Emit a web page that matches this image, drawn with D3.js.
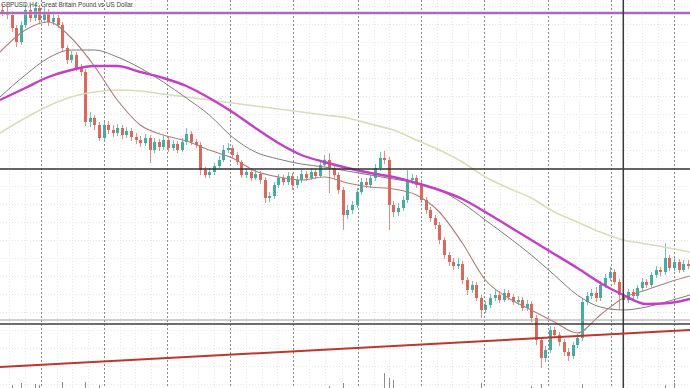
<!DOCTYPE html>
<html>
<head>
<meta charset="utf-8">
<script src="https://cdn.jsdelivr.net/npm/d3@7"></script>
<style>
  body { margin: 0; background: #fff; }
  svg { display: block; }
</style>
</head>
<body>
<div id="chart"></div>
<script>
// GBPUSD H4 candles (open of each bar = previous close)
const firstOpen = 1.3380;
const closes = [
  1.3376,1.3370,1.3344,1.3316,1.3350,1.3380,1.3364,1.3384,1.3360,1.3376,
  1.3356,1.3364,1.3350,1.3304,1.3280,1.3290,1.3264,1.3256,1.3156,1.3164,
  1.3150,1.3124,1.3150,1.3140,1.3134,1.3144,1.3130,1.3138,1.3126,1.3120,
  1.3114,1.3124,1.3100,1.3116,1.3106,1.3120,1.3104,1.3112,1.3100,1.3116,
  1.3132,1.3116,1.3110,1.3060,1.3050,1.3056,1.3068,1.3080,1.3100,1.3104,
  1.3090,1.3076,1.3050,1.3056,1.3044,1.3052,1.3040,1.3004,1.3008,1.3030,
  1.3044,1.3036,1.3048,1.3030,1.3040,1.3052,1.3044,1.3056,1.3048,1.3070,
  1.3080,1.3064,1.3050,1.3020,1.2970,1.2980,1.2990,1.3016,1.3036,1.3030,
  1.3044,1.3064,1.3084,1.3080,1.2990,1.2976,1.2984,1.3000,1.3040,1.3044,
  1.3030,1.3000,1.2980,1.2964,1.2950,1.2920,1.2890,1.2876,1.2868,1.2872,
  1.2840,1.2820,1.2830,1.2804,1.2780,1.2790,1.2804,1.2810,1.2800,1.2814,
  1.2806,1.2796,1.2800,1.2784,1.2792,1.2764,1.2720,1.2684,1.2700,1.2740,
  1.2730,1.2716,1.2696,1.2688,1.2710,1.2724,1.2796,1.2808,1.2814,1.2804,
  1.2830,1.2844,1.2856,1.2836,1.2810,1.2800,1.2816,1.2808,1.2824,1.2836,
  1.2830,1.2850,1.2860,1.2856,1.2884,1.2864,1.2876,1.2860,1.2872,1.2868
];
const highs = [
  1.3392,1.3386,1.3378,1.3350,1.3358,1.3392,1.3390,1.3394,1.3390,1.3386,
  1.3382,1.3372,1.3370,1.3356,1.3310,1.3298,1.3296,1.3272,1.3262,1.3176,
  1.3170,1.3156,1.3160,1.3158,1.3150,1.3152,1.3150,1.3146,1.3144,1.3134,
  1.3128,1.3132,1.3130,1.3124,1.3122,1.3128,1.3126,1.3120,1.3118,1.3124,
  1.3144,1.3138,1.3122,1.3116,1.3066,1.3064,1.3074,1.3088,1.3110,1.3114,
  1.3110,1.3096,1.3080,1.3064,1.3062,1.3060,1.3058,1.3046,1.3016,1.3036,
  1.3052,1.3050,1.3056,1.3054,1.3048,1.3060,1.3058,1.3064,1.3062,1.3076,
  1.3090,1.3094,1.3070,1.3056,1.3026,1.2990,1.2998,1.3024,1.3044,1.3044,
  1.3050,1.3072,1.3096,1.3098,1.3086,1.2998,1.2994,1.3008,1.3060,1.3052,
  1.3050,1.3036,1.3006,1.2986,1.2970,1.2956,1.2926,1.2896,1.2884,1.2884,
  1.2878,1.2846,1.2838,1.2836,1.2810,1.2798,1.2812,1.2822,1.2818,1.2822,
  1.2820,1.2812,1.2808,1.2806,1.2800,1.2798,1.2770,1.2726,1.2708,1.2748,
  1.2746,1.2736,1.2722,1.2704,1.2716,1.2732,1.2804,1.2816,1.2822,1.2826,
  1.2838,1.2852,1.2866,1.2862,1.2842,1.2816,1.2822,1.2822,1.2830,1.2844,
  1.2842,1.2856,1.2868,1.2866,1.2914,1.2890,1.2884,1.2882,1.2880,1.2880
];
const lows = [
  1.3368,1.3362,1.3336,1.3306,1.3310,1.3344,1.3356,1.3358,1.3352,1.3354,
  1.3348,1.3350,1.3344,1.3296,1.3272,1.3274,1.3258,1.3248,1.3148,1.3146,
  1.3140,1.3118,1.3118,1.3132,1.3126,1.3128,1.3122,1.3124,1.3118,1.3112,
  1.3106,1.3108,1.3074,1.3094,1.3098,1.3100,1.3096,1.3098,1.3094,1.3096,
  1.3110,1.3110,1.3104,1.3050,1.3044,1.3044,1.3050,1.3062,1.3076,1.3094,
  1.3084,1.3070,1.3044,1.3044,1.3038,1.3040,1.3032,1.2994,1.2996,1.3002,
  1.3024,1.3030,1.3030,1.3020,1.3024,1.3034,1.3038,1.3040,1.3042,1.3044,
  1.3066,1.3014,1.3040,1.3012,1.2940,1.2962,1.2972,1.2984,1.3010,1.3024,
  1.3024,1.3038,1.3058,1.3072,1.2940,1.2966,1.2968,1.2978,1.2994,1.3032,
  1.3024,1.2994,1.2972,1.2956,1.2942,1.2912,1.2882,1.2868,1.2860,1.2862,
  1.2832,1.2810,1.2814,1.2798,1.2764,1.2774,1.2784,1.2798,1.2794,1.2796,
  1.2800,1.2790,1.2790,1.2778,1.2778,1.2756,1.2710,1.2664,1.2676,1.2694,
  1.2724,1.2708,1.2688,1.2678,1.2682,1.2704,1.2718,1.2790,1.2802,1.2796,
  1.2798,1.2824,1.2838,1.2830,1.2780,1.2794,1.2794,1.2800,1.2802,1.2818,
  1.2824,1.2826,1.2844,1.2848,1.2850,1.2858,1.2858,1.2854,1.2856,1.2862
];
const volumes = [
  14000,16000,20250,17500,21750,15000,16500,21000,20250,14500,
  13000,15500,16000,22500,17000,12000,15000,16500,22500,17000,
  15500,20250,16000,13000,12500,11000,12000,14000,10500,12000,
  13500,11500,16000,12500,11000,12000,10000,11500,13000,12000,
  15000,13000,11000,17500,14000,12000,11500,13000,14500,12000,
  11000,12500,15000,11000,10500,12000,13000,17000,14000,13000,
  12000,10500,11000,12500,11000,10000,12000,11500,13000,15000,
  16000,19500,15500,17000,21750,16000,14000,15000,13500,12000,
  13000,15500,17500,29250,25500,24000,16500,15000,17000,13000,
  12500,15000,14000,13500,14500,16500,17000,15000,13000,12000,
  16000,17500,14000,16000,21750,15000,13000,12500,12000,13500,
  12000,13000,12000,14000,13000,19500,17500,21000,16000,17000,
  14000,13500,15000,16000,14500,15500,21000,15000,13000,12500,
  14000,15000,14500,13000,16500,19500,14000,12000,13000,14000,
  12500,14500,15000,14000,20250,17000,21750,14500,13000,12000
];

const maIdx = [-0.5,5,10,15,20,25,30,35,40,45,50,55,60,65,70,75,80,85,90,95,100,105,110,115,120,125,130,135,140,145,149.5];
const maSlow = [1.3134,1.3164,1.3188,1.3206,1.3216,1.3220,1.3218,1.3212,1.3206,1.3200,1.3194,1.3188,1.3182,1.3176,1.3170,1.3164,1.3152,1.3140,1.3120,1.3100,1.3076,1.3046,1.3024,1.3004,1.2976,1.2956,1.2936,1.2920,1.2912,1.2904,1.2896];
const maMid = [1.3200,1.3224,1.3246,1.3260,1.3268,1.3268,1.3256,1.3244,1.3228,1.3204,1.3176,1.3144,1.3114,1.3090,1.3076,1.3064,1.3054,1.3046,1.3034,1.3020,1.3002,1.2976,1.2948,1.2920,1.2892,1.2864,1.2834,1.2810,1.2792,1.2794,1.2802];
const maGrey = [1.3206,1.3250,1.3284,1.3300,1.3300,1.3286,1.3264,1.3236,1.3204,1.3170,1.3126,1.3096,1.3082,1.3072,1.3066,1.3058,1.3050,1.3042,1.3034,1.3020,1.2994,1.2960,1.2926,1.2890,1.2850,1.2810,1.2786,1.2780,1.2786,1.2798,1.2810];
const maFast = [1.3296,1.3340,1.3356,1.3324,1.3268,1.3200,1.3150,1.3130,1.3118,1.3100,1.3084,1.3058,1.3046,1.3040,1.3046,1.3034,1.3026,1.3022,1.3010,1.2976,1.2914,1.2840,1.2804,1.2780,1.2756,1.2734,1.2770,1.2804,1.2820,1.2836,1.2848];

// drawn objects
const purpleLevel = 1.3374;
const blackLevel = 1.3062;
const greyLevels = [1.2760, 1.2752];
const trendIdx = [-0.5, 149.5];
const trendPrice = [1.2666, 1.2740];
const vLineAt = 135;
const gridAt = [8.4, 22.1, 35.8, 49.5, 63.2, 77.3, 91.0, 104.7, 118.6, 132.3, 146.0];
const title = "GBPUSD,H4:  Great Britain Pound vs US Dollar";

const width = 690, height = 388;

const svg = d3.select("#chart").append("svg")
  .attr("width", width)
  .attr("height", height);

var x = d3.scaleLinear().domain([-0.5, closes.length - 0.5]).range([0, width]);
var y = d3.scaleLinear().domain([1.2624, 1.3400]).range([height, 0]);
var vol = d3.scaleLinear().domain([0, 30000]).range([412, 372]);

// faint minor grid
const minorY = d3.range(1.3388, 1.2620, -0.0036);
svg.append("g").selectAll("line").data(minorY).enter().append("line")
  .attr("x1", 0).attr("x2", width)
  .attr("y1", d => Math.round(y(d)) + 0.5).attr("y2", d => Math.round(y(d)) + 0.5)
  .attr("stroke", "#e6e6e6").attr("stroke-dasharray", "1,2");

const minorX = [];
gridAt.forEach((g, k) => {
  const step = k > 0 ? g - gridAt[k - 1] : gridAt[1] - gridAt[0];
  [-0.75, -0.5, -0.25].forEach(f => minorX.push(g + f * step));
});
minorX.push(gridAt[gridAt.length - 1] + 0.25 * 13.7);
svg.append("g").selectAll("line").data(minorX).enter().append("line")
  .attr("y1", 0).attr("y2", height)
  .attr("x1", d => Math.round(x(d)) + 0.5).attr("x2", d => Math.round(x(d)) + 0.5)
  .attr("stroke", "#e6e6e6").attr("stroke-dasharray", "1,2");

// major vertical grid
svg.append("g").selectAll("line").data(gridAt).enter().append("line")
  .attr("y1", 0).attr("y2", height)
  .attr("x1", d => Math.round(x(d)) + 0.5).attr("x2", d => Math.round(x(d)) + 0.5)
  .attr("stroke", "#8a8a8a").attr("stroke-dasharray", "2,2");

// volume spikes poking up from the lower pane
svg.append("g").selectAll("line").data(volumes).enter().append("line")
  .attr("x1", (d, i) => Math.round(x(i)) + 0.5).attr("x2", (d, i) => Math.round(x(i)) + 0.5)
  .attr("y1", height).attr("y2", d => vol(d))
  .attr("stroke", "#8c8c8c").attr("stroke-width", 1);

// candles
const bars = closes.map((c, i) => ({
  i: i,
  o: i === 0 ? firstOpen : closes[i - 1],
  c: c,
  h: highs[i],
  l: lows[i]
}));
const bull = "#45ad9f", bear = "#d8695c";

const candle = svg.append("g").selectAll("g").data(bars).enter().append("g");
candle.append("line")
  .attr("x1", d => Math.round(x(d.i)) + 0.5).attr("x2", d => Math.round(x(d.i)) + 0.5)
  .attr("y1", d => y(d.h)).attr("y2", d => y(d.l))
  .attr("stroke", d => d.c >= d.o ? bull : bear)
  .attr("stroke-opacity", 0.75);
candle.append("rect")
  .attr("x", d => Math.round(x(d.i)) - 1)
  .attr("width", 3)
  .attr("y", d => y(Math.max(d.o, d.c)))
  .attr("height", d => Math.max(1, Math.abs(y(d.o) - y(d.c))))
  .attr("fill", d => d.c >= d.o ? bull : bear);

// moving averages
const maLine = vals => d3.line()
  .x((d, k) => x(maIdx[k]))
  .y(d => y(d))
  .curve(d3.curveMonotoneX)(vals);

svg.append("path").attr("d", maLine(maSlow))
  .attr("fill", "none").attr("stroke", "#d9dcbc").attr("stroke-width", 1.6);
svg.append("path").attr("d", maLine(maGrey))
  .attr("fill", "none").attr("stroke", "#7c7c7c").attr("stroke-width", 1);
svg.append("path").attr("d", maLine(maFast))
  .attr("fill", "none").attr("stroke", "#b07c7c").attr("stroke-width", 1.1);
svg.append("path").attr("d", maLine(maMid))
  .attr("fill", "none").attr("stroke", "#c23fc6").attr("stroke-width", 2.4);

// horizontal levels
svg.append("line")
  .attr("x1", 0).attr("x2", width)
  .attr("y1", y(purpleLevel)).attr("y2", y(purpleLevel))
  .attr("stroke", "#d7b8de").attr("stroke-width", 3);
svg.append("line")
  .attr("x1", 0).attr("x2", width)
  .attr("y1", y(purpleLevel)).attr("y2", y(purpleLevel))
  .attr("stroke", "#9a4fae").attr("stroke-width", 1.3);

svg.append("line")
  .attr("x1", 0).attr("x2", width)
  .attr("y1", y(blackLevel)).attr("y2", y(blackLevel))
  .attr("stroke", "#333").attr("stroke-width", 1.6);

svg.append("g").selectAll("line").data(greyLevels).enter().append("line")
  .attr("x1", 0).attr("x2", width)
  .attr("y1", d => y(d)).attr("y2", d => y(d))
  .attr("stroke", (d, k) => k === 0 ? "#a0a0a0" : "#3c3c3c")
  .attr("stroke-width", (d, k) => k === 0 ? 1 : 1.5);

// vertical marker line
svg.append("line")
  .attr("x1", x(vLineAt)).attr("x2", x(vLineAt))
  .attr("y1", 0).attr("y2", height)
  .attr("stroke", "#3a3a3a").attr("stroke-width", 1.5);

// trend line
svg.append("line")
  .attr("x1", x(trendIdx[0])).attr("x2", x(trendIdx[1]))
  .attr("y1", y(trendPrice[0])).attr("y2", y(trendPrice[1]))
  .attr("stroke", "#c0352c").attr("stroke-width", 2);

// title
svg.append("text")
  .attr("x", 1).attr("y", 7)
  .attr("font-family", "Liberation Sans, Arial, sans-serif")
  .attr("font-size", 6.3)
  .attr("fill", "#444")
  .text(title);
</script>
</body>
</html>
